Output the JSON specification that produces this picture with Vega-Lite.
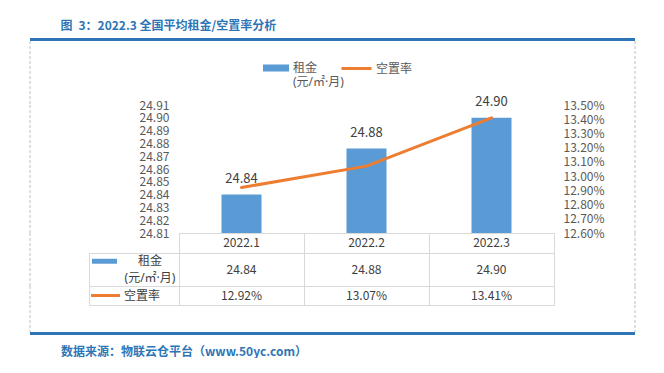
{
"$schema":"https://vega.github.io/schema/vega-lite/v6.json",
"padding":{"left":29,"top":20,"right":0,"bottom":0},
"title":{"text":"图\u20023：2022.3 全国平均租金/空置率分析","anchor":"start","dx":31,"offset":5,"fontSize":12,"fontWeight":"bold","color":"#2E75B6"},
"config":{"font":"Noto Sans CJK SC","view":{"stroke":null},"axis":{"labelFontSize":12,"labelColor":"#595959"},"text":{"fontSize":12,"color":"#404040"}},
"datasets":{"d":[{"month":"2022.1","rent":24.84,"vacancy":0.1292},{"month":"2022.2","rent":24.876,"vacancy":0.1307},{"month":"2022.3","rent":24.9,"vacancy":0.1341}]},
"columns":4,"spacing":0,"bounds":"flush","align":"each",
"resolve":{"scale":{"fill":"independent","stroke":"independent"},"legend":{"fill":"independent","stroke":"independent"}},
"concat":[
{"width":59,"height":3,"view":{"fill":"#2E75B6","stroke":null},"data":{"values":[]},"mark":"point"},
{"width":90,"height":3,"view":{"fill":"#2E75B6","stroke":null},"data":{"values":[]},"mark":"point"},
{"width":375,"height":3,"view":{"fill":"#2E75B6","stroke":null},"data":{"values":[]},"mark":"point"},
{"width":81,"height":3,"view":{"fill":"#2E75B6","stroke":null},"data":{"values":[]},"mark":"point"},

{"width":59,"height":64,"data":{"values":[{}]},"mark":{"type":"rule","color":"#BFBFBF","strokeDash":[3,2]},"encoding":{"x":{"datum":0,"type":"quantitative","scale":{"domain":[0,1]},"axis":null}}},
{"width":90,"height":64,"data":{"values":[]},"mark":"point"},
{"width":375,"height":64,"data":{"values":[]},"mark":"point"},
{"width":81,"height":64,"data":{"values":[{}]},"mark":{"type":"rule","color":"#BFBFBF","strokeDash":[3,2]},"encoding":{"x":{"datum":1,"type":"quantitative","scale":{"domain":[0,1]},"axis":null}}},

{"width":59,"height":128,"data":{"values":[{}]},"mark":{"type":"rule","color":"#BFBFBF","strokeDash":[3,2]},"encoding":{"x":{"datum":0,"type":"quantitative","scale":{"domain":[0,1]},"axis":null}}},
{"width":90,"height":128,"data":{"values":[]},"mark":"point"},
{"width":375,"height":128,"data":{"name":"d"},
 "layer":[
  {"encoding":{"x":{"field":"month","type":"ordinal","axis":null,"scale":{"paddingInner":0,"paddingOuter":0}},
    "y":{"field":"rent","type":"quantitative","scale":{"domain":[24.81,24.91],"zero":false,"nice":false},
      "axis":{"values":[24.81,24.82,24.83,24.84,24.85,24.86,24.87,24.88,24.89,24.9,24.91],"format":".2f","domain":false,"ticks":false,"tickSize":0,"grid":false,"labelPadding":10,"title":null}}},
   "layer":[
    {"mark":{"type":"bar","width":{"band":0.32}},
     "encoding":{"y2":{"datum":24.81},
      "fill":{"datum":"租金","type":"nominal","scale":{"range":["#5B9BD5"]},
        "legend":{"title":null,"orient":"none","legendX":84,"legendY":-50,"symbolType":"M-1,-0.27H1V0.27H-1Z","symbolSize":676,"symbolStrokeWidth":0,"symbolOpacity":1,"labelFont":"Noto Sans, Noto Sans CJK SC","labelFontSize":12,"labelColor":"#595959","labelLineHeight":15,"labelOffset":4,"labelExpr":"['租金', '(元/㎡·月)']"}}}},
    {"mark":{"type":"text","dy":-16,"fontSize":13},"encoding":{"text":{"field":"rent","type":"quantitative","format":".2f"}}}
   ]},
  {"mark":{"type":"line","strokeWidth":3,"strokeCap":"round"},
   "encoding":{"x":{"field":"month","type":"ordinal","axis":null},
     "y":{"field":"vacancy","type":"quantitative","scale":{"domain":[0.126,0.135],"zero":false,"nice":false},
       "axis":{"orient":"right","values":[0.126,0.127,0.128,0.129,0.13,0.131,0.132,0.133,0.134,0.135],"format":".2%","domain":false,"ticks":false,"tickSize":0,"grid":false,"labelPadding":9,"title":null}},
     "stroke":{"datum":"空置率","type":"nominal","scale":{"range":["#ED7D31"]},
       "legend":{"title":null,"orient":"none","legendX":161,"legendY":-53,"symbolType":"stroke","symbolSize":900,"symbolStrokeWidth":3,"labelFontSize":12,"labelColor":"#595959","labelOffset":3}}}}
 ],
 "resolve":{"scale":{"y":"independent"}}
},
{"width":81,"height":128,"data":{"values":[{}]},"mark":{"type":"rule","color":"#BFBFBF","strokeDash":[3,2]},"encoding":{"x":{"datum":1,"type":"quantitative","scale":{"domain":[0,1]},"axis":null}}},

{"width":59,"height":20,"data":{"values":[{}]},"mark":{"type":"rule","color":"#BFBFBF","strokeDash":[3,2]},"encoding":{"x":{"datum":0,"type":"quantitative","scale":{"domain":[0,1]},"axis":null}}},
{"width":90,"height":20,"data":{"values":[]},"mark":"point"},
{"width":375,"height":20,"view":{"stroke":"#D9D9D9"},"data":{"name":"d"},"mark":{"type":"text"},
 "encoding":{"x":{"field":"month","type":"ordinal","scale":{"paddingInner":0,"paddingOuter":0},"axis":{"labels":false,"ticks":false,"domain":false,"grid":true,"gridColor":"#D9D9D9","tickBand":"extent","title":null}},"text":{"field":"month","type":"nominal"}}},
{"width":81,"height":20,"data":{"values":[{}]},"mark":{"type":"rule","color":"#BFBFBF","strokeDash":[3,2]},"encoding":{"x":{"datum":1,"type":"quantitative","scale":{"domain":[0,1]},"axis":null}}},

{"width":59,"height":33,"data":{"values":[{}]},"mark":{"type":"rule","color":"#BFBFBF","strokeDash":[3,2]},"encoding":{"x":{"datum":0,"type":"quantitative","scale":{"domain":[0,1]},"axis":null}}},
{"width":90,"height":33,"view":{"stroke":"#D9D9D9"},
 "data":{"values":[{"line":"1","label":"租金"},{"line":"2","label":"(元/㎡·月)"}]},
 "layer":[
  {"transform":[{"filter":"datum.line == '1'"}],
   "mark":{"type":"point","shape":"stroke","size":625,"strokeWidth":5,"color":"#5B9BD5","opacity":1},
   "encoding":{"x":{"datum":"symbol","type":"nominal","scale":{"type":"point","domain":["symbol","label"],"padding":0.489,"align":0.348},"axis":null},
     "y":{"field":"line","type":"ordinal","scale":{"type":"point","padding":0.5,"domain":["1","2"]},"axis":null}}},
  {"mark":{"type":"text","font":"Noto Sans, Noto Sans CJK SC"},
   "encoding":{"x":{"datum":"label","type":"nominal","axis":null},"y":{"field":"line","type":"ordinal","axis":null},"text":{"field":"label","type":"nominal"}}}
 ]},
{"width":375,"height":33,"view":{"stroke":"#D9D9D9"},"data":{"name":"d"},"mark":{"type":"text"},
 "encoding":{"x":{"field":"month","type":"ordinal","scale":{"paddingInner":0,"paddingOuter":0},"axis":{"labels":false,"ticks":false,"domain":false,"grid":true,"gridColor":"#D9D9D9","tickBand":"extent","title":null}},"text":{"field":"rent","type":"quantitative","format":".2f"}}},
{"width":81,"height":33,"data":{"values":[{}]},"mark":{"type":"rule","color":"#BFBFBF","strokeDash":[3,2]},"encoding":{"x":{"datum":1,"type":"quantitative","scale":{"domain":[0,1]},"axis":null}}},

{"width":59,"height":19,"data":{"values":[{}]},"mark":{"type":"rule","color":"#BFBFBF","strokeDash":[3,2]},"encoding":{"x":{"datum":0,"type":"quantitative","scale":{"domain":[0,1]},"axis":null}}},
{"width":90,"height":19,"view":{"stroke":"#D9D9D9"},
 "data":{"values":[{"label":"空置率"}]},
 "layer":[
  {"mark":{"type":"point","shape":"stroke","size":841,"strokeWidth":3,"color":"#ED7D31","opacity":1},
   "encoding":{"x":{"datum":"symbol","type":"nominal","scale":{"type":"point","domain":["symbol","label"],"padding":0.733,"align":0.308},"axis":null}}},
  {"mark":{"type":"text"},"encoding":{"x":{"datum":"label","type":"nominal","axis":null},"text":{"field":"label","type":"nominal"}}}
 ]},
{"width":375,"height":19,"view":{"stroke":"#D9D9D9"},"data":{"name":"d"},"mark":{"type":"text"},
 "encoding":{"x":{"field":"month","type":"ordinal","scale":{"paddingInner":0,"paddingOuter":0},"axis":{"labels":false,"ticks":false,"domain":false,"grid":true,"gridColor":"#D9D9D9","tickBand":"extent","title":null}},"text":{"field":"vacancy","type":"quantitative","format":".2%"}}},
{"width":81,"height":19,"data":{"values":[{}]},"mark":{"type":"rule","color":"#BFBFBF","strokeDash":[3,2]},"encoding":{"x":{"datum":1,"type":"quantitative","scale":{"domain":[0,1]},"axis":null}}},

{"width":59,"height":27,"data":{"values":[{}]},"mark":{"type":"rule","color":"#BFBFBF","strokeDash":[3,2]},"encoding":{"x":{"datum":0,"type":"quantitative","scale":{"domain":[0,1]},"axis":null}}},
{"width":90,"height":27,"data":{"values":[]},"mark":"point"},
{"width":375,"height":27,"data":{"values":[]},"mark":"point"},
{"width":81,"height":27,"data":{"values":[{}]},"mark":{"type":"rule","color":"#BFBFBF","strokeDash":[3,2]},"encoding":{"x":{"datum":1,"type":"quantitative","scale":{"domain":[0,1]},"axis":null}}},

{"width":59,"height":3,"view":{"fill":"#2E75B6","stroke":null},"data":{"values":[]},"mark":"point",
 "title":{"text":"数据来源：物联云仓平台（www.50yc.com）","orient":"bottom","anchor":"start","dx":31,"offset":12,"fontSize":12,"fontWeight":"bold","color":"#2E75B6"}},
{"width":90,"height":3,"view":{"fill":"#2E75B6","stroke":null},"data":{"values":[]},"mark":"point"},
{"width":375,"height":3,"view":{"fill":"#2E75B6","stroke":null},"data":{"values":[]},"mark":"point"},
{"width":81,"height":3,"view":{"fill":"#2E75B6","stroke":null},"data":{"values":[]},"mark":"point"}
]
}
